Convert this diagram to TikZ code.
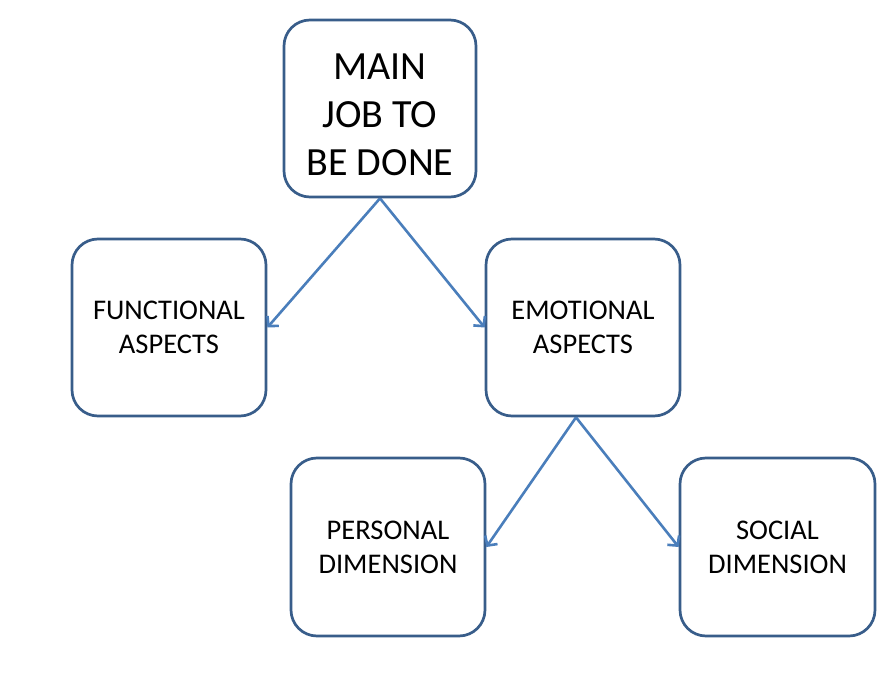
\documentclass[tikz,border=0pt]{standalone}
\usepackage{fontspec}
\setmainfont{Carlito}
\usetikzlibrary{arrows.meta}
\definecolor{boxblue}{HTML}{385D8A}
\definecolor{arrblue}{HTML}{4A7EBB}
\begin{document}
\begin{tikzpicture}[x=1pt,y=-1pt,
  box/.style={draw=boxblue, line width=2.7pt, rounded corners=26pt, fill=white,
    minimum width=#1, align=center, inner sep=0pt},
  box/.default=192pt,
  small/.style={font=\fontsize{28.5}{34}\selectfont},
  conn/.style={draw=arrblue, line width=2.6pt, -{Straight Barb[length=7pt,width=15pt,line width=2.6pt]}}]
\useasboundingbox (0,0) rectangle (891,698);
\node[box=192pt, minimum height=177pt, font=\fontsize{40}{48}\selectfont] (main) at (380,108.5)
  {\raisebox{-9.5pt}[\height][\depth]{\begin{tabular}{@{}c@{}}MAIN\\JOB TO\\BE DONE\end{tabular}}};
\node[box=194pt, minimum height=177pt, small] (func) at (169,327.5) {FUNCTIONAL\\ASPECTS};
\node[box=194pt, minimum height=177pt, small] (emo) at (583,327.5) {EMOTIONAL\\ASPECTS};
\node[box=194pt, minimum height=178pt, small] (pers) at (388,547) {PERSONAL\\DIMENSION};
\node[box=195pt, minimum height=178pt, small] (soc) at (777.5,547) {SOCIAL\\DIMENSION};
\draw[conn] (main.south) -- (func.east);
\draw[conn] (main.south) -- (emo.west);
\draw[conn] ([xshift=-7pt]emo.south) -- (pers.east);
\draw[conn] ([xshift=-7pt]emo.south) -- (soc.west);
\end{tikzpicture}
\end{document}
